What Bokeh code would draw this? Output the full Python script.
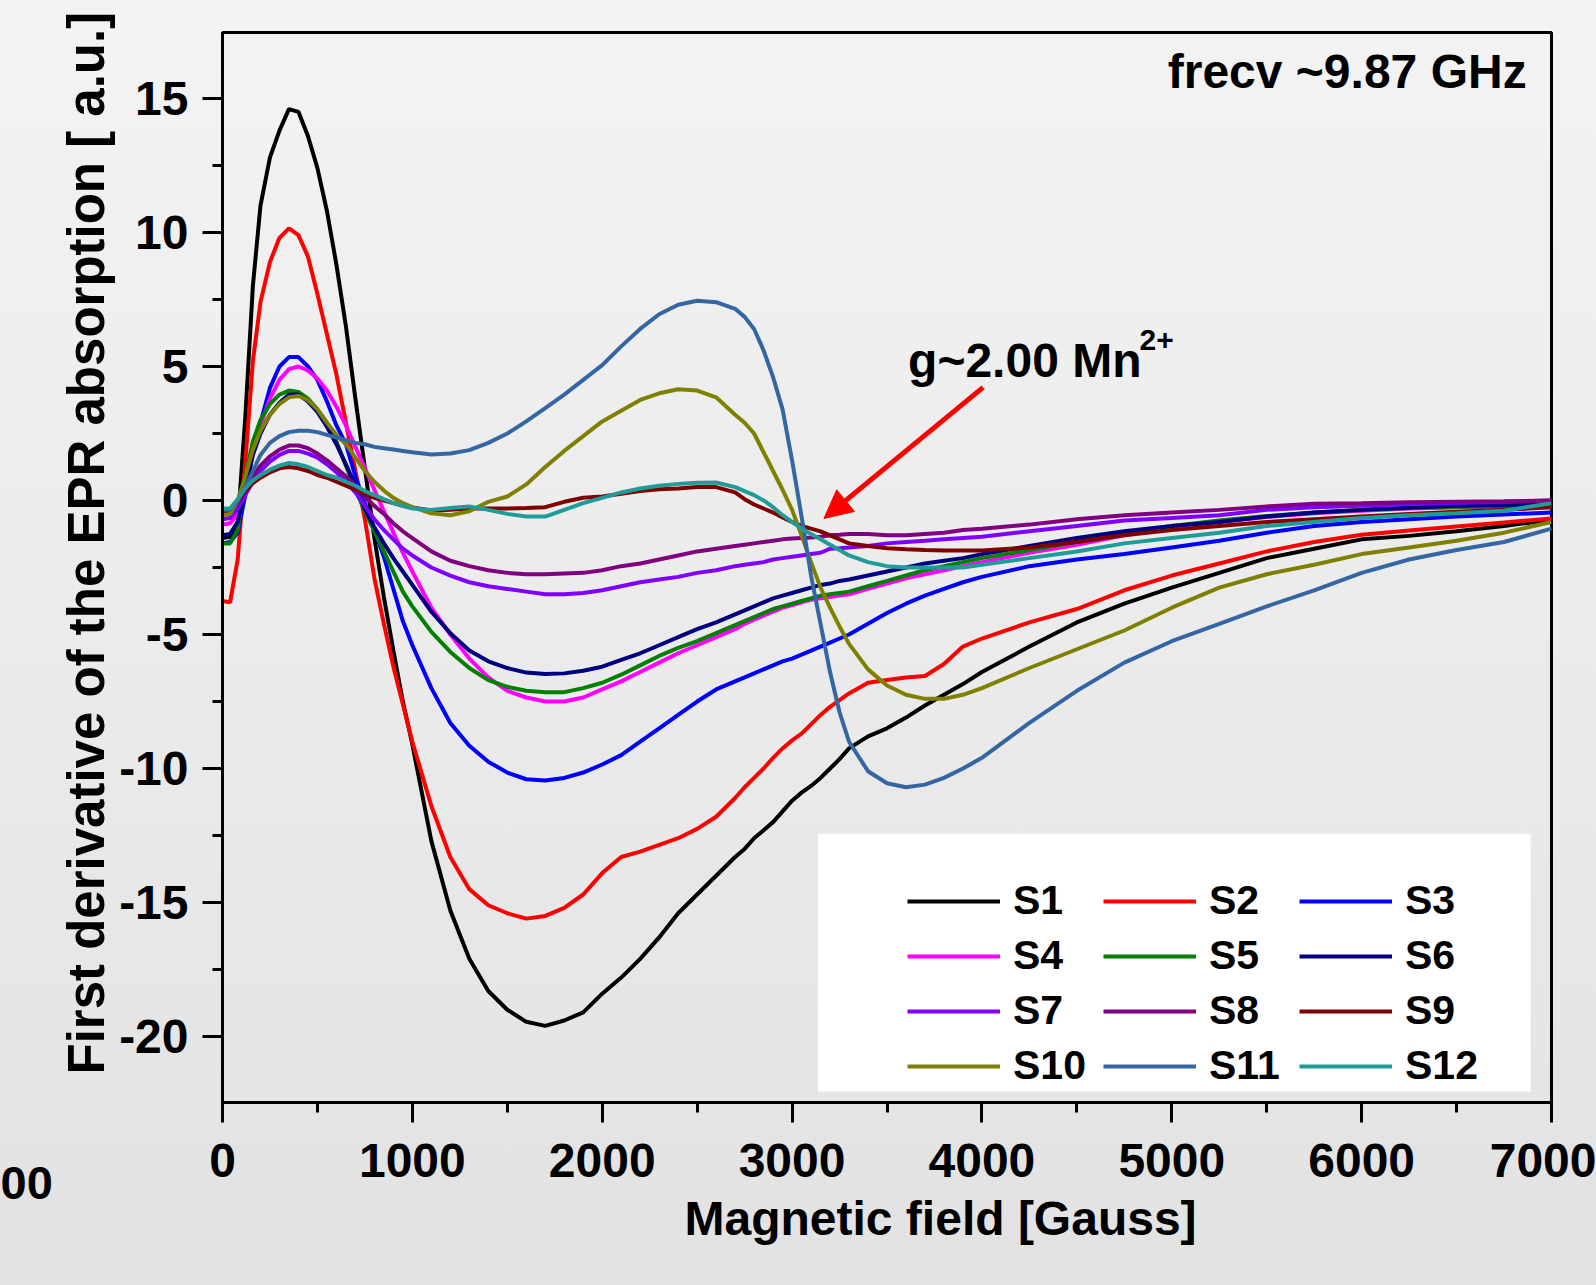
import math
from bokeh.plotting import figure
from bokeh.models import (Range1d, SingleIntervalTicker, Legend, LegendItem, Label, Title,
                          Arrow, NormalHead, InlineStyleSheet)
from bokeh.embed import file_html
from bokeh.resources import INLINE

# ---------------- data ----------------
field = [0, 40, 80, 120, 160, 200, 250, 300, 350, 400, 450, 500, 550, 600, 650, 700, 750, 800, 850, 900,
         950, 1000, 1100, 1200, 1300, 1400, 1500, 1600, 1700, 1800, 1900, 2000, 2100, 2200, 2300, 2400,
         2500, 2600, 2700, 2750, 2800, 2850, 2900, 2950, 3000, 3050, 3100, 3150, 3200, 3250, 3300, 3400,
         3500, 3600, 3700, 3800, 3900, 4000, 4250, 4500, 4750, 5000, 5250, 5500, 5750, 6000, 6250, 6500,
         6750, 7000]

s1 = [-1.4, -1.35, -0.9, 3.1, 8.0, 11.0, 12.8, 13.8, 14.6, 14.5, 13.6, 12.4, 10.8, 8.8, 6.5, 3.8, 1.2, -1.4,
      -3.6, -5.6, -7.5, -9.1, -12.7, -15.3, -17.1, -18.3, -19.0, -19.45, -19.6, -19.4, -19.1, -18.4, -17.8,
      -17.1, -16.3, -15.4, -14.7, -14.0, -13.3, -13.0, -12.6, -12.3, -12.0, -11.6, -11.2, -10.9, -10.65,
      -10.35, -10.0, -9.65, -9.25, -8.8, -8.5, -8.1, -7.65, -7.25, -6.85, -6.4, -5.45, -4.55, -3.85, -3.25,
      -2.7, -2.15, -1.8, -1.45, -1.32, -1.15, -0.95, -0.72]
s2 = [-3.75, -3.8, -2.2, 1.4, 5.2, 7.4, 8.9, 9.8, 10.15, 9.9, 9.1, 7.7, 6.2, 4.7, 2.9, 1.1, -0.7, -2.9, -4.6,
      -6.2, -7.6, -9.0, -11.4, -13.3, -14.5, -15.1, -15.4, -15.6, -15.5, -15.2, -14.7, -13.9, -13.3, -13.1,
      -12.85, -12.6, -12.25, -11.8, -11.1, -10.7, -10.35, -10.0, -9.6, -9.25, -8.95, -8.7, -8.35, -8.0, -7.7,
      -7.45, -7.2, -6.8, -6.7, -6.6, -6.55, -6.1, -5.45, -5.15, -4.55, -4.05, -3.35, -2.8, -2.35, -1.9,
      -1.55, -1.28, -1.12, -0.97, -0.82, -0.67]
s3 = [-1.6, -1.55, -1.2, 0.2, 1.8, 2.9, 4.2, 5.0, 5.35, 5.35, 5.0, 4.5, 3.7, 2.8, 2.1, 0.9, -0.1, -1.1, -2.1,
      -3.3, -4.5, -5.4, -7.0, -8.3, -9.15, -9.75, -10.15, -10.4, -10.45, -10.35, -10.15, -9.85, -9.5, -9.0,
      -8.5, -8.0, -7.5, -7.05, -6.75, -6.6, -6.45, -6.3, -6.15, -6.0, -5.9, -5.75, -5.6, -5.45, -5.3, -5.15,
      -5.0, -4.6, -4.2, -3.85, -3.55, -3.3, -3.05, -2.85, -2.45, -2.2, -2.0, -1.75, -1.5, -1.2, -0.95, -0.8,
      -0.7, -0.6, -0.52, -0.45]
s4 = [-0.9, -0.85, -0.5, 0.6, 1.9, 2.8, 3.8, 4.5, 4.9, 5.0, 4.85, 4.55, 4.1, 3.5, 2.8, 2.0, 1.2, 0.4, -0.4,
      -1.2, -1.95, -2.65, -4.0, -5.0, -5.9, -6.6, -7.1, -7.35, -7.5, -7.5, -7.35, -7.05, -6.75, -6.4, -6.05,
      -5.7, -5.4, -5.1, -4.8, -4.6, -4.45, -4.3, -4.15, -4.0, -3.9, -3.8, -3.7, -3.65, -3.6, -3.55, -3.5,
      -3.3, -3.1, -2.9, -2.75, -2.6, -2.45, -2.3, -1.95, -1.65, -1.3, -1.0, -0.8, -0.62, -0.48, -0.38, -0.3,
      -0.25, -0.22, -0.2]
s5 = [-1.6, -1.6, -1.1, 0.9, 2.2, 3.0, 3.6, 3.95, 4.1, 4.05, 3.8, 3.4, 2.9, 2.2, 1.3, 0.4, -0.4, -1.15, -1.9,
      -2.65, -3.4, -3.95, -4.9, -5.65, -6.25, -6.7, -6.95, -7.1, -7.15, -7.15, -7.0, -6.8, -6.5, -6.15,
      -5.8, -5.5, -5.25, -4.95, -4.65, -4.5, -4.35, -4.2, -4.05, -3.95, -3.85, -3.75, -3.65, -3.55, -3.5,
      -3.45, -3.4, -3.2, -3.0, -2.8, -2.6, -2.45, -2.3, -2.15, -1.85, -1.55, -1.25, -0.95, -0.75, -0.58,
      -0.45, -0.35, -0.28, -0.24, -0.21, -0.2]
s6 = [-1.3, -1.25, -0.8, 0.4, 1.7, 2.5, 3.2, 3.65, 3.95, 3.95, 3.7, 3.3, 2.75, 2.1, 1.35, 0.55, -0.3, -1.0,
      -1.6, -2.15, -2.65, -3.15, -4.15, -4.95, -5.6, -6.0, -6.25, -6.42, -6.47, -6.45, -6.35, -6.2, -5.95,
      -5.7, -5.4, -5.1, -4.8, -4.55, -4.25, -4.1, -3.95, -3.8, -3.65, -3.55, -3.45, -3.35, -3.25, -3.15,
      -3.1, -3.0, -2.95, -2.8, -2.65, -2.5, -2.35, -2.25, -2.15, -2.0, -1.7, -1.4, -1.15, -0.95, -0.8, -0.6,
      -0.45, -0.35, -0.27, -0.2, -0.17, -0.15]
s7 = [-0.7, -0.65, -0.3, 0.2, 0.7, 1.1, 1.45, 1.7, 1.85, 1.85, 1.75, 1.6, 1.35, 1.05, 0.7, 0.3, -0.2, -0.7,
      -1.1, -1.45, -1.8, -2.05, -2.5, -2.8, -3.05, -3.2, -3.3, -3.4, -3.5, -3.5, -3.45, -3.35, -3.2, -3.05,
      -2.95, -2.85, -2.7, -2.6, -2.45, -2.4, -2.35, -2.3, -2.2, -2.15, -2.1, -2.05, -2.0, -1.95, -1.8, -1.78,
      -1.75, -1.7, -1.6, -1.55, -1.5, -1.45, -1.4, -1.35, -1.15, -0.95, -0.75, -0.65, -0.55, -0.35, -0.25,
      -0.2, -0.13, -0.08, -0.05, 0.0]
s8 = [-0.5, -0.5, -0.1, 0.4, 0.9, 1.3, 1.65, 1.9, 2.05, 2.05, 1.95, 1.75, 1.5, 1.2, 0.9, 0.55, 0.15, -0.2,
      -0.5, -0.85, -1.15, -1.4, -1.9, -2.25, -2.45, -2.6, -2.7, -2.75, -2.75, -2.72, -2.7, -2.6, -2.45,
      -2.35, -2.2, -2.05, -1.9, -1.8, -1.7, -1.65, -1.6, -1.55, -1.5, -1.45, -1.42, -1.4, -1.38, -1.35, -1.3,
      -1.28, -1.25, -1.25, -1.3, -1.3, -1.25, -1.2, -1.1, -1.05, -0.9, -0.7, -0.55, -0.45, -0.35, -0.22,
      -0.12, -0.1, -0.07, -0.05, -0.03, 0.0]
s9 = [-0.4, -0.4, 0.0, 0.35, 0.65, 0.85, 1.05, 1.2, 1.25, 1.2, 1.1, 0.95, 0.85, 0.7, 0.55, 0.4, 0.25, 0.1,
      0.0, -0.1, -0.2, -0.26, -0.37, -0.35, -0.3, -0.3, -0.3, -0.28, -0.25, -0.05, 0.1, 0.15, 0.25, 0.35,
      0.42, 0.45, 0.5, 0.5, 0.3, 0.05, -0.15, -0.3, -0.45, -0.63, -0.8, -0.95, -1.05, -1.15, -1.3, -1.45,
      -1.6, -1.7, -1.78, -1.82, -1.85, -1.87, -1.87, -1.87, -1.75, -1.55, -1.3, -1.1, -0.95, -0.8, -0.7,
      -0.6, -0.5, -0.42, -0.35, -0.25]
s10 = [-0.55, -0.5, 0.0, 0.9, 1.9, 2.6, 3.2, 3.6, 3.85, 3.9, 3.75, 3.4, 2.9, 2.45, 2.1, 1.6, 1.1, 0.7, 0.37,
       0.1, -0.1, -0.25, -0.48, -0.55, -0.4, -0.05, 0.15, 0.6, 1.25, 1.85, 2.4, 2.95, 3.35, 3.75, 4.0, 4.15,
       4.1, 3.85, 3.2, 2.9, 2.5, 1.8, 1.1, 0.4, -0.35, -1.3, -2.3, -3.25, -4.0, -4.7, -5.35, -6.3, -6.9,
       -7.25, -7.4, -7.4, -7.25, -7.0, -6.25, -5.55, -4.85, -4.0, -3.25, -2.75, -2.4, -2.0, -1.75, -1.5,
       -1.2, -0.8]
s11 = [-0.35, -0.35, 0.0, 0.5, 1.1, 1.7, 2.15, 2.4, 2.55, 2.6, 2.6, 2.55, 2.45, 2.35, 2.25, 2.15, 2.1, 2.0,
       1.95, 1.9, 1.85, 1.8, 1.72, 1.75, 1.88, 2.15, 2.5, 2.95, 3.45, 3.95, 4.5, 5.05, 5.75, 6.4, 6.95, 7.3,
       7.45, 7.4, 7.15, 6.85, 6.4, 5.6, 4.6, 3.4, 1.5, -0.6, -2.8, -4.6, -6.4, -7.9, -9.0, -10.1, -10.55,
       -10.7, -10.6, -10.35, -10.0, -9.6, -8.3, -7.1, -6.05, -5.25, -4.6, -3.95, -3.35, -2.7, -2.2, -1.85,
       -1.55, -1.05]
s12 = [-0.3, -0.3, 0.05, 0.45, 0.75, 0.95, 1.15, 1.3, 1.4, 1.35, 1.25, 1.1, 0.95, 0.85, 0.7, 0.55, 0.35, 0.2,
       0.05, -0.1, -0.2, -0.3, -0.35, -0.28, -0.22, -0.35, -0.5, -0.6, -0.6, -0.35, -0.1, 0.1, 0.3, 0.45,
       0.55, 0.62, 0.66, 0.67, 0.5, 0.35, 0.2, 0.0, -0.25, -0.55, -0.8, -1.05, -1.25, -1.45, -1.65, -1.85,
       -2.05, -2.3, -2.45, -2.5, -2.5, -2.5, -2.5, -2.4, -2.15, -1.9, -1.6, -1.4, -1.2, -0.95, -0.8, -0.65,
       -0.55, -0.48, -0.38, -0.1]

names = ["S1", "S2", "S3", "S4", "S5", "S6", "S7", "S8", "S9", "S10", "S11", "S12"]
series = [s1, s2, s3, s4, s5, s6, s7, s8, s9, s10, s11, s12]
colors = ["#000000", "#ff0000", "#0000ff", "#ff00ff", "#008000", "#000080",
          "#8000ff", "#800080", "#800000", "#808000", "#3366a3", "#1f9c98"]

x_ticks_labels = {v: str(v) for v in range(0, 7001, 1000)}
y_ticks_labels = {v: str(v) for v in range(-20, 16, 5)}

FONT = "Liberation Sans"

# ---------------- figure ----------------
css = InlineStyleSheet(css=":host { background: linear-gradient(to bottom, #f3f3f3 0%, #ebebeb 50%, #e2e2e2 100%); }")

p = figure(width=1596, height=1285, output_backend="svg", toolbar_location=None,
           x_range=Range1d(0, 7000), y_range=Range1d(-22.46, 17.46),
           min_border_left=222, min_border_right=45, min_border_top=32, min_border_bottom=183,
           stylesheets=[css])
p.background_fill_alpha = 0
p.border_fill_alpha = 0
p.outline_line_color = "black"
p.outline_line_width = 3
p.grid.visible = False

p.xaxis.ticker = SingleIntervalTicker(interval=1000, num_minor_ticks=2)
p.yaxis.ticker = SingleIntervalTicker(interval=5, num_minor_ticks=2)
p.xaxis.major_label_overrides = x_ticks_labels
p.yaxis.major_label_overrides = y_ticks_labels
for ax in (p.xaxis, p.yaxis):
    ax.axis_line_width = 3
    ax.axis_line_color = "black"
    ax.major_tick_line_width = 3
    ax.minor_tick_line_width = 3
    ax.major_tick_out = 20
    ax.major_tick_in = 0
    ax.minor_tick_out = 10
    ax.minor_tick_in = 0
    ax.major_label_text_font = FONT
    ax.major_label_text_font_style = "bold"
    ax.major_label_text_font_size = "48px"
    ax.major_label_text_color = "black"
p.xaxis.major_label_standoff = 21
p.yaxis.major_label_standoff = 14

# fragment of a neighbouring tick label at the lower-left corner (side-panel title)
p.add_layout(Title(text="00", align="left", offset=-222, standoff=-38,
                   text_font=FONT, text_font_style="bold", text_font_size="47px",
                   text_color="black"), "below")
# axis titles (as side-panel titles so they are never clipped)
p.add_layout(Title(text="Magnetic field [Gauss]", align="left", offset=462, standoff=21,
                   text_font=FONT, text_font_style="bold", text_font_size="48px",
                   text_color="black"), "below")
p.add_layout(Title(text="First derivative of the EPR absorption [ a.u.]", align="left", offset=28,
                   standoff=3, text_font=FONT, text_font_style="bold", text_font_size="51px",
                   text_color="black"), "left")

renderers = []
for nm, ys, c in zip(names, series, colors):
    r = p.line(field, ys, line_color=c, line_width=4)
    renderers.append(r)

# white legend panel
p.quad(left=[3137], right=[6890], bottom=[-22.05], top=[-12.43], fill_color="white", line_color=None)

legend = Legend(items=[LegendItem(label=nm, renderers=[r]) for nm, r in zip(names, renderers)],
                orientation="horizontal", ncols=3, location=(685, 13),
                glyph_width=93, glyph_height=40, label_height=47, label_width=82,
                label_standoff=13, spacing=8, padding=0, margin=0,
                border_line_alpha=0, background_fill_alpha=0,
                label_text_font=FONT, label_text_font_style="bold", label_text_font_size="41px",
                label_text_color="black")
p.add_layout(legend)

# annotations
p.add_layout(Label(x=6869, y=16.02, text="frecv ~9.87 GHz", text_align="right",
                   text_baseline="alphabetic", text_font=FONT, text_font_style="bold",
                   text_font_size="48px", text_color="black"))
p.add_layout(Label(x=3611, y=5.24, text="g~2.00 Mn", text_align="left", text_baseline="alphabetic",
                   text_font=FONT, text_font_style="bold", text_font_size="48px", text_color="black"))
p.add_layout(Label(x=4830, y=6.0, text="2+", text_align="left", text_baseline="alphabetic",
                   text_font=FONT, text_font_style="bold", text_font_size="30px", text_color="black"))
p.add_layout(Arrow(end=NormalHead(size=28, fill_color="red", line_color="red"),
                   x_start=4006, y_start=4.22, x_end=3168, y_end=-0.67,
                   line_color="red", line_width=5))

open("out.html", "w").write(file_html(p, INLINE))
